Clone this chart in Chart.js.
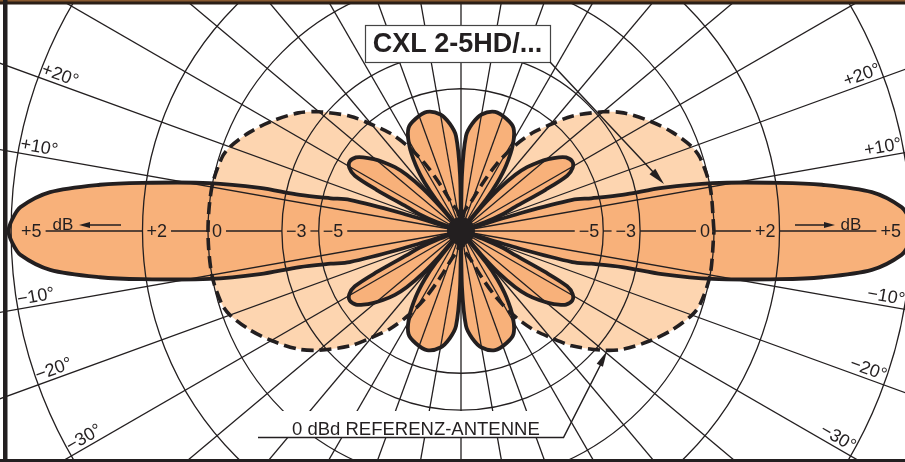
<!DOCTYPE html>
<html>
<head>
<meta charset="utf-8">
<script src="https://cdn.jsdelivr.net/npm/chart.js"></script>
<style>
  html, body { margin: 0; padding: 0; background: #fff; }
  canvas { display: block; }
</style>
</head>
<body>
<canvas id="c" width="905" height="462"></canvas>
<script>
// vertical pattern, one quadrant (elevation angle in deg), mirrored to all four
const patAngles = [0, 1.5, 3.1, 5.4, 7.3, 8.6, 10.8, 12.1, 12.6, 14.1, 15.6, 16.7, 18, 20, 22, 24, 26, 27.5, 29.5, 32,
                   35, 37, 39.5, 41.5, 44, 46, 48, 49.5, 50.5, 51.5, 53, 55.5, 59, 63, 68, 74, 80, 84, 87, 89, 90];
const patDb = [5.05, 4.98, 4.83, 4.25, 3.16, 2.1, 0.1, -1.8, -3.7, -5.5, -6.8, -12, -40, -20, -15, -12.6, -8.6, -6.5, -5.9, -5.7,
               -5.9, -6.3, -7.0, -7.7, -8.8, -10.2, -13, -18, -40, -16, -12.5, -10, -8, -6.8, -6.4, -6.2, -6.6, -7.4, -8.5, -13, -40];

// 0 dBd reference antenna (dashed)
const refAngles = [0, 10, 17, 20, 25, 30, 36, 40, 46, 50, 54, 58, 62, 66, 72, 80, 90];
const refDb = [0, 0, -0.1, -0.25, -0.7, -1.25, -2.0, -2.7, -4.0, -5.2, -6.4, -8.1, -10.5, -14, -19, -22, -40];

// grid
const ringDb = [-5, -3, 0, 2, 5];
const ringLabels = ['−5', '−3', '0', '+2', '+5'];
const spokeAngles = [10, 20, 30, 40, 50, 60, 70, 80, 90, 100, 110, 120, 130, 140, 150, 160, 170,
                     190, 200, 210, 220, 230, 240, 250, 260, 270, 280, 290, 300, 310, 320, 330, 340, 350];
const degLabels = ['+20°', '+10°', '−10°', '−20°', '−30°'];
const degLabelAngles = [20, 10, -10, -20, -30];

const INK = '#231f20';
const FONT = '"Liberation Sans", Arial, Helvetica, sans-serif';

// dB -> linear amplitude radius, polar -> x/y
function toPoints(angles, dbs) {
  const n = angles.length;
  const seq = [];
  for (let i = 0; i < n; i++) seq.push([angles[i], dbs[i]]);
  for (let i = n - 2; i >= 0; i--) seq.push([180 - angles[i], dbs[i]]);
  for (let i = 1; i < n; i++) seq.push([180 + angles[i], dbs[i]]);
  for (let i = n - 2; i >= 0; i--) seq.push([360 - angles[i], dbs[i]]);
  return seq.map(([a, db]) => {
    const r = Math.pow(10, db / 20), t = a * Math.PI / 180;
    return {x: r * Math.cos(t), y: r * Math.sin(t)};
  });
}

function geom(chart) {
  const {x, y} = chart.scales;
  const cx = x.getPixelForValue(0), cy = y.getPixelForValue(0);
  return {cx, cy, unit: x.getPixelForValue(1) - cx};
}

// where each ring label sits on the horizontal axis (px from centre)
function ringLabelSpots(ctx, unit) {
  ctx.font = '18px ' + FONT;
  return ringLabels.map((t, i) => {
    const w = ctx.measureText(t).width;
    const R = unit * Math.pow(10, ringDb[i] / 20);
    const pad = i === ringLabels.length - 1 ? 10 : 4;   // outermost sits inside the lobe tip
    return {t, w, rc: R - w / 2 - pad};
  });
}

function arrowHead(ctx, x1, y1, x2, y2, len, half) {
  const a = Math.atan2(y2 - y1, x2 - x1);
  const bx = x2 - len * Math.cos(a), by = y2 - len * Math.sin(a);
  ctx.beginPath();
  ctx.moveTo(x2, y2);
  ctx.lineTo(bx + half * Math.sin(a), by - half * Math.cos(a));
  ctx.lineTo(bx - half * Math.sin(a), by + half * Math.cos(a));
  ctx.closePath();
  ctx.fill();
}

const gridPlugin = {
  id: 'polarGrid',
  beforeDatasetsDraw(chart) {
    const ctx = chart.ctx;
    const {cx, cy, unit} = geom(chart);
    ctx.save();
    ctx.strokeStyle = INK;
    ctx.lineWidth = 1.3;
    ringDb.forEach(db => {
      ctx.beginPath();
      ctx.arc(cx, cy, unit * Math.pow(10, db / 20), 0, Math.PI * 2);
      ctx.stroke();
    });
    spokeAngles.forEach(a => {
      const t = a * Math.PI / 180;
      ctx.beginPath();
      ctx.moveTo(cx, cy);
      ctx.lineTo(cx + 1200 * Math.cos(t), cy - 1200 * Math.sin(t));
      ctx.stroke();
    });
    // horizontal axis, broken where the dB labels are
    const spots = ringLabelSpots(ctx, unit);
    [-1, 1].forEach(s => {
      let start = 0;
      spots.forEach(p => {
        const lo = p.rc - p.w / 2 - 4, hi = p.rc + p.w / 2 + 4;
        if (lo > start + 2) {
          ctx.beginPath();
          ctx.moveTo(cx + s * start, cy);
          ctx.lineTo(cx + s * lo, cy);
          ctx.stroke();
        }
        start = hi;
      });
    });
    ctx.restore();
  }
};

const labelPlugin = {
  id: 'labels',
  afterDatasetsDraw(chart) {
    const ctx = chart.ctx;
    const {cx, cy, unit} = geom(chart);
    ctx.save();
    ctx.fillStyle = INK;
    ctx.strokeStyle = INK;

    // hub
    ctx.beginPath();
    ctx.arc(cx, cy, 14, 0, Math.PI * 2);
    ctx.fill();

    // ring labels on the axis
    ctx.textAlign = 'center';
    ctx.textBaseline = 'middle';
    ringLabelSpots(ctx, unit).forEach(p => {
      ctx.fillText(p.t, cx - p.rc, cy + 1);
      ctx.fillText(p.t, cx + p.rc, cy + 1);
    });

    // dB with arrows
    ctx.font = '17px ' + FONT;
    ctx.textBaseline = 'alphabetic';
    ctx.fillText('dB', cx - 398, cy - 1);
    ctx.fillText('dB', cx + 390, cy - 1);
    ctx.lineWidth = 1.3;
    ctx.beginPath();
    ctx.moveTo(cx - 340, cy - 6); ctx.lineTo(cx - 376, cy - 6);
    ctx.moveTo(cx + 334, cy - 6); ctx.lineTo(cx + 368, cy - 6);
    ctx.stroke();
    arrowHead(ctx, cx - 340, cy - 6, cx - 382, cy - 6, 11, 3);
    arrowHead(ctx, cx + 334, cy - 6, cx + 374, cy - 6, 11, 3);

    // elevation labels along the spokes
    ctx.font = '18px ' + FONT;
    ctx.textBaseline = 'middle';
    const rl = 430;
    degLabelAngles.forEach((a, i) => {
      [a, 180 - a].forEach(phiDeg => {
        const phi = phiDeg * Math.PI / 180;
        const px = cx + rl * Math.cos(phi), py = cy - rl * Math.sin(phi);
        const nx = Math.cos(phi) > 0 ? -Math.sin(phi) : Math.sin(phi);
        const ny = Math.cos(phi) > 0 ? -Math.cos(phi) : Math.cos(phi);
        ctx.save();
        ctx.translate(px + 9 * nx, py + 9 * ny);
        ctx.rotate((Math.cos(phi) > 0 ? -a : a) * Math.PI / 180);
        ctx.fillText(degLabels[i], 0, 0);
        ctx.restore();
      });
    });

    // title box with pointer
    ctx.fillStyle = '#fff';
    ctx.fillRect(365, 25, 185, 37);
    ctx.strokeStyle = '#444';
    ctx.lineWidth = 1.2;
    ctx.strokeRect(365.5, 25.5, 185, 37);
    ctx.fillStyle = INK;
    ctx.font = 'bold 27px ' + FONT;
    ctx.textAlign = 'center';
    ctx.fillText('CXL 2-5HD/...', 457.5, 44.5);
    ctx.strokeStyle = INK;
    ctx.lineWidth = 1.5;
    ctx.beginPath();
    ctx.moveTo(550, 62); ctx.lineTo(655, 174);
    ctx.stroke();
    arrowHead(ctx, 550, 62, 664, 184, 17, 4);

    // reference antenna caption
    ctx.fillStyle = '#fff';
    ctx.fillRect(258, 411, 306, 26);
    ctx.fillStyle = INK;
    ctx.font = '18.5px ' + FONT;
    ctx.textAlign = 'left';
    ctx.textBaseline = 'alphabetic';
    ctx.fillText('0 dBd REFERENZ-ANTENNE', 292, 434.5);
    ctx.lineWidth = 1.5;
    ctx.beginPath();
    ctx.moveTo(258, 437.5); ctx.lineTo(563.5, 437.5); ctx.lineTo(602, 362);
    ctx.stroke();
    arrowHead(ctx, 563.5, 437.5, 607, 351, 16, 3.5);

    // frame
    ctx.fillStyle = '#2b1f17';
    ctx.fillRect(0, 0, 905, 4.5);
    ctx.fillStyle = '#8a5a30';
    ctx.fillRect(0, 0, 905, 1.5);
    ctx.fillStyle = INK;
    ctx.fillRect(3, 0, 4.5, 462);
    ctx.fillRect(0, 459, 905, 3);
    ctx.restore();
  }
};

new Chart(document.getElementById('c'), {
  type: 'line',
  data: {
    datasets: [
      {
        label: 'CXL 2-5HD',
        data: toPoints(patAngles, patDb),
        borderColor: INK,
        borderWidth: 3.8,
        borderJoinStyle: 'round',
        backgroundColor: '#f8b17a',
        fill: 'shape',
        tension: 0.3,
        pointRadius: 0
      },
      {
        label: '0 dBd Referenz-Antenne',
        data: toPoints(refAngles, refDb),
        borderColor: INK,
        borderWidth: 3.6,
        borderDash: [12, 6],
        backgroundColor: '#fdd5b0',
        fill: 'shape',
        tension: 0.3,
        pointRadius: 0
      }
    ]
  },
  options: {
    responsive: false,
    animation: false,
    events: [],
    layout: {padding: 0},
    scales: {
      x: {type: 'linear', min: -461 / 253, max: 444 / 253, display: false},
      y: {type: 'linear', min: -231 / 253, max: 231 / 253, display: false}
    },
    plugins: {
      legend: {display: false},
      tooltip: {enabled: false},
      filler: {drawTime: 'beforeDatasetsDraw'}
    }
  },
  plugins: [gridPlugin, labelPlugin]
});
</script>
</body>
</html>
